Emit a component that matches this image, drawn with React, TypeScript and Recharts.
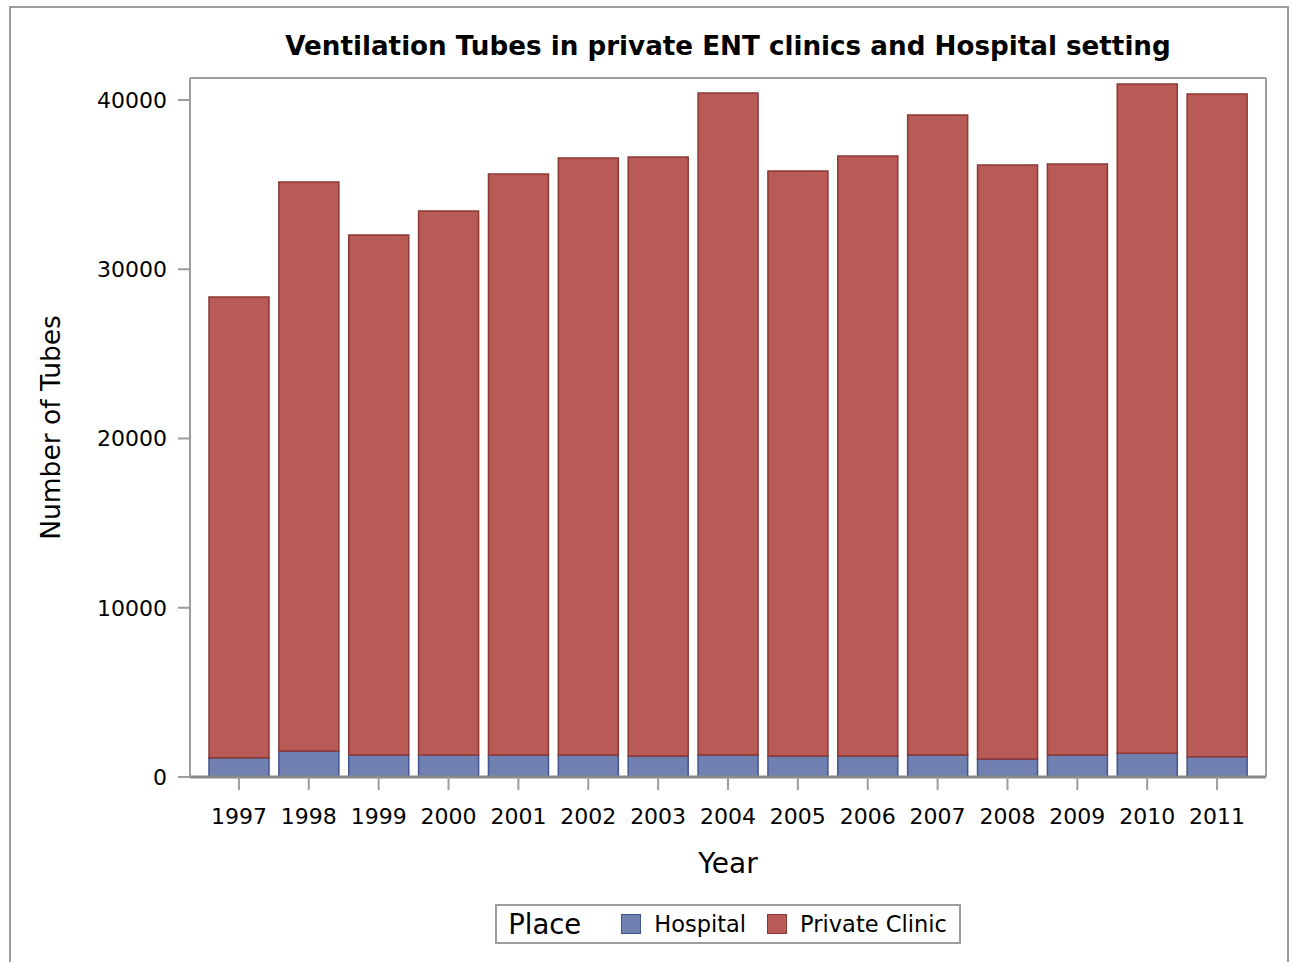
import { BarChart, Bar, XAxis, YAxis, Legend, Label } from 'recharts';

const years = ['1997', '1998', '1999', '2000', '2001', '2002', '2003', '2004', '2005', '2006', '2007', '2008', '2009', '2010', '2011'];
const hospital = [1140, 1530, 1300, 1300, 1300, 1300, 1240, 1300, 1240, 1240, 1300, 1060, 1300, 1400, 1200];
const privateClinic = [27220, 33620, 30720, 32140, 34330, 35270, 35390, 39110, 34560, 35450, 37810, 35100, 34920, 39540, 39150];
const yTicks = [0, 10000, 20000, 30000, 40000];

const data = years.map((year, i) => ({
  year,
  hospital: hospital[i],
  privateClinic: privateClinic[i],
}));

const FONT = '"DejaVu Sans", Verdana, sans-serif';
const GRID = '#9d9d9d';
const BLUE = '#7080b1';
const BLUE_EDGE = '#44548f';
const RED = '#b85a56';
const RED_EDGE = '#8c3934';

function renderLegend() {
  const swatch = (color: string, edge: string) => (
    <span style={{ display: 'inline-block', width: 18, height: 18, background: color, border: `1px solid ${edge}` }} />
  );
  return (
    <div style={{ display: 'flex', justifyContent: 'center', fontFamily: FONT }}>
      <div
        style={{
          display: 'flex',
          alignItems: 'center',
          height: 36,
          border: `2px solid ${GRID}`,
          padding: '0 12px 0 11px',
          color: '#000',
        }}
      >
        <span style={{ fontSize: 27.5, marginRight: 40 }}>Place</span>
        {swatch(BLUE, BLUE_EDGE)}
        <span style={{ fontSize: 22.5, marginLeft: 13, marginRight: 21 }}>Hospital</span>
        {swatch(RED, RED_EDGE)}
        <span style={{ fontSize: 22.5, marginLeft: 13 }}>Private Clinic</span>
      </div>
    </div>
  );
}

export default function App() {
  return (
    <div style={{ position: 'fixed', left: 0, top: 0, width: 1293, height: 962, overflow: 'hidden', background: '#fff' }}>
      <div
        style={{
          position: 'absolute',
          left: 9,
          top: 6,
          width: 1280,
          height: 970,
          border: `2px solid ${GRID}`,
          boxSizing: 'border-box',
        }}
      />
      <div
        style={{
          position: 'absolute',
          left: 190,
          width: 1076,
          top: 31,
          textAlign: 'center',
          fontFamily: FONT,
          fontWeight: 'bold',
          fontSize: 26.2,
          color: '#000',
          whiteSpace: 'nowrap',
        }}
      >
        Ventilation Tubes in private ENT clinics and Hospital setting
      </div>
      <BarChart
        width={1293}
        height={962}
        data={data}
        margin={{ top: 77, right: 26, left: 0, bottom: 0 }}
        style={{ position: 'absolute', left: 0, top: 0, fontFamily: FONT }}
      >
        <XAxis
          dataKey="year"
          height={185}
          padding={{ left: 14, right: 14 }}
          interval={0}
          tickSize={13}
          tickMargin={18}
          axisLine={{ stroke: '#8a8a8a', strokeWidth: 3 }}
          tickLine={{ stroke: GRID, strokeWidth: 2 }}
          tick={{ fill: '#000', fontSize: 22, fontFamily: FONT }}
        >
          <Label value="Year" position="insideBottom" offset={89} style={{ fill: '#000', fontSize: 28, fontFamily: FONT }} />
        </XAxis>
        <XAxis xAxisId="top" dataKey="year" orientation="top" height={1} tick={false} tickLine={false} axisLine={{ stroke: GRID, strokeWidth: 2 }} />
        <YAxis
          width={190}
          domain={[0, 41300]}
          ticks={yTicks}
          interval={0}
          allowDataOverflow
          tickSize={12}
          tickMargin={11}
          axisLine={{ stroke: GRID, strokeWidth: 2 }}
          tickLine={{ stroke: GRID, strokeWidth: 2 }}
          tick={{ fill: '#000', fontSize: 22, fontFamily: FONT }}
        >
          <Label
            value="Number of Tubes"
            angle={-90}
            position="insideLeft"
            offset={51}
            style={{ fill: '#000', fontSize: 26.5, fontFamily: FONT, textAnchor: 'middle' }}
          />
        </YAxis>
        <YAxis yAxisId="right" orientation="right" width={1} tick={false} tickLine={false} axisLine={{ stroke: GRID, strokeWidth: 2 }} />
        <Legend
          layout="horizontal"
          verticalAlign="middle"
          align="center"
          content={renderLegend}
          wrapperStyle={{ position: 'absolute', left: 190, top: 904, width: 1076 }}
        />
        <Bar dataKey="hospital" name="Hospital" stackId="a" barSize={60} fill={BLUE} stroke={BLUE_EDGE} strokeWidth={1.5} isAnimationActive={false} />
        <Bar dataKey="privateClinic" name="Private Clinic" stackId="a" barSize={60} fill={RED} stroke={RED_EDGE} strokeWidth={1.5} isAnimationActive={false} />
      </BarChart>
    </div>
  );
}
